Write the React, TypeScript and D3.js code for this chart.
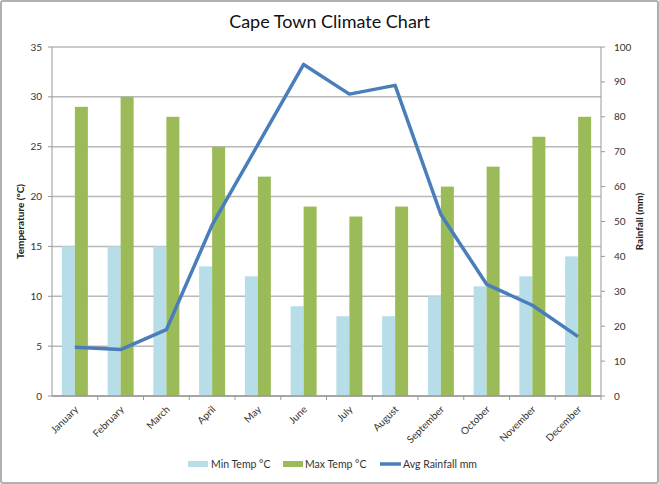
import React from "react";
import * as d3 from "d3";

const months = ["January","February","March","April","May","June","July","August","September","October","November","December"];
const minTemp = [15,15,15,13,12,9,8,8,10,11,12,14];
const maxTemp = [29,30,28,25,22,19,18,19,21,23,26,28];
const rainfall = [14,13.3,19,49,72,95,86.5,89,52,32,26,17];
const tempTicks = [0,5,10,15,20,25,30,35];
const rainTicks = [0,10,20,30,40,50,60,70,80,90,100];

const W = 659, H = 484;
const L = 52, R = 601, T = 47, B = 396;
const FONT = "Lato, 'Open Sans', sans-serif";

export default function App() {
  const x = d3.scaleBand<string>().domain(months).range([L, R]).paddingInner(0).paddingOuter(0);
  const yT = d3.scaleLinear().domain([0, 35]).range([B, T]);
  const yR = d3.scaleLinear().domain([0, 100]).range([B, T]);
  const bw = 13;
  const line = d3.line<number>()
    .x((_, i) => (x(months[i]) as number) + x.bandwidth() / 2)
    .y((d) => yR(d));

  return (
    <svg width={W} height={H} style={{ position: "absolute", left: 0, top: 0, background: "#fff" }} fontFamily={FONT}>
      <rect x={1} y={1} width={W - 2} height={H - 2} fill="#fff" stroke="#b0b0b0" strokeWidth={2} rx={2} />
      <text x={W / 2} y={28} textAnchor="middle" fontSize={18} fill="#111">Cape Town Climate Chart</text>

      {tempTicks.map((t) => (
        <g key={"g" + t}>
          <line x1={L} x2={R} y1={yT(t)} y2={yT(t)} stroke="#b8b8b8" strokeWidth={1.5} />
          <line x1={L - 4} x2={L} y1={yT(t)} y2={yT(t)} stroke="#999" />
          <text x={L - 10} y={yT(t) + 3.5} textAnchor="end" fontSize={10} fill="#333">{t}</text>
        </g>
      ))}
      {rainTicks.map((t) => (
        <g key={"r" + t}>
          <line x1={R} x2={R + 4} y1={yR(t)} y2={yR(t)} stroke="#999" />
          <text x={R + 13} y={yR(t) + 3.5} textAnchor="start" fontSize={10} fill="#333">{t}</text>
        </g>
      ))}
      <line x1={L} x2={L} y1={T} y2={B} stroke="#999" />
      <line x1={R} x2={R} y1={T} y2={B} stroke="#999" />

      {months.map((m, i) => {
        const cx = (x(m) as number) + x.bandwidth() / 2;
        return (
          <g key={m}>
            <rect x={cx - bw} y={yT(minTemp[i])} width={bw} height={B - yT(minTemp[i])} fill="#b7dde8" />
            <rect x={cx} y={yT(maxTemp[i])} width={bw} height={B - yT(maxTemp[i])} fill="#9bbb59" />
          </g>
        );
      })}
      <line x1={L} x2={R} y1={B} y2={B} stroke="#999" strokeWidth={1.5} />
      {months.map((m, i) => (
        <line key={"xt" + i} x1={(x(m) as number) + x.bandwidth()} x2={(x(m) as number) + x.bandwidth()} y1={B} y2={B + 4} stroke="#999" />
      ))}
      {months.map((m) => {
        const cx = (x(m) as number) + x.bandwidth() / 2;
        return (
          <text key={"xl" + m} transform={`translate(${cx + 4},${B + 14}) rotate(-45)`} textAnchor="end" fontSize={10} fill="#333">{m}</text>
        );
      })}

      <path d={line(rainfall) as string} fill="none" stroke="#4a7ebb" strokeWidth={3.5} strokeLinejoin="round" />

      <text transform={`translate(24,${(T + B) / 2}) rotate(-90)`} textAnchor="middle" fontSize={10} fontWeight="bold" fill="#222">Temperature  (°C)</text>
      <text transform={`translate(643,${(T + B) / 2}) rotate(-90)`} textAnchor="middle" fontSize={10} fontWeight="bold" fill="#222">Rainfall (mm)</text>

      <g fontSize={10.5} fill="#333">
        <rect x={188} y={461} width={20} height={6} fill="#b7dde8" />
        <text x={211} y={468}>Min Temp °C</text>
        <rect x={283} y={461} width={20} height={6} fill="#9bbb59" />
        <text x={305} y={468}>Max Temp °C</text>
        <line x1={380} x2={401} y1={464} y2={464} stroke="#4a7ebb" strokeWidth={3.5} />
        <text x={403} y={468}>Avg Rainfall mm</text>
      </g>
    </svg>
  );
}
